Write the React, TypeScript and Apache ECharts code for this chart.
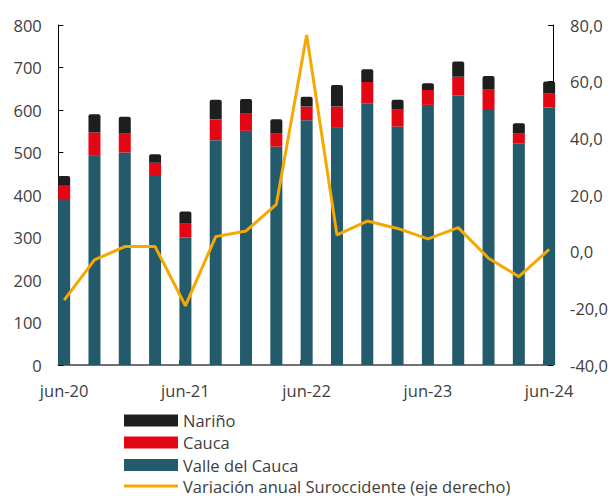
import React, { useEffect, useRef } from "react";
import * as echarts from "echarts";

const categories = [
  "jun-20", "sep-20", "dic-20", "mar-21", "jun-21", "sep-21", "dic-21", "mar-22",
  "jun-22", "sep-22", "dic-22", "mar-23", "jun-23", "sep-23", "dic-23", "mar-24", "jun-24",
];
const valleDelCauca = [388, 492, 500, 447, 300, 529, 551, 514, 576, 558, 616, 561, 612, 635, 600, 522, 606];
const cauca = [34, 55, 45, 29, 34, 49, 40, 31, 32, 50, 50, 41, 35, 43, 49, 23, 33];
const narino = [23, 43, 39, 20, 27, 46, 35, 33, 23, 51, 30, 22, 16, 36, 31, 24, 28];
const variacionAnual = [-17.1, -2.9, 1.8, 1.8, -19.1, 5.3, 7.3, 16.7, 76.5, 5.9, 10.8, 8.2, 4.5, 8.5, -2.3, -8.8, 0.8];
const leftTicks = { min: 0, max: 800, interval: 100 };
const rightTicks = { min: -40, max: 80, interval: 20 };
const legendNames = ["Nariño", "Cauca", "Valle del Cauca", "Variación anual Suroccidente (eje derecho)"];

const FONT = "Open Sans";
const FS = 16.5;
const TXT = "#404040";

export default function App() {
  const ref = useRef<HTMLDivElement>(null);
  useEffect(() => {
    document.body.style.margin = "0";
    const chart = echarts.init(ref.current!, null, { renderer: "svg" });
    const top = 25;
    const height = 340;
    const legendCenters = [420.5, 442.5, 465, 486];
    chart.setOption({
      animation: false,
      textStyle: { fontFamily: FONT },
      grid: [
        { left: 49, width: 515.3, top, height },
        { left: 58.3, right: 56.7, top, height },
      ],
      legend: legendNames.map((name, i) => {
        const isLine = i === 3;
        const ih = isLine ? 3 : 12;
        return {
          orient: "vertical",
          left: 124,
          top: legendCenters[i] - 9,
          height: 18,
          itemWidth: 54,
          itemHeight: ih,
          itemGap: 0,
          icon: "rect",
          padding: 0,
          textStyle: { fontFamily: FONT, fontSize: FS, color: TXT, lineHeight: 18, padding: [0, 0, 0, 0] },
          data: [{ name }],
        };
      }),
      xAxis: [
        {
          type: "category",
          gridIndex: 0,
          data: categories,
          boundaryGap: true,
          axisLine: { show: false },
          axisTick: { show: false },
          axisLabel: { interval: 3, margin: 17, fontSize: FS, color: TXT, fontFamily: FONT },
        },
        {
          type: "value",
          gridIndex: 1,
          min: 0,
          max: 16.33,
          interval: 4,
          axisLine: { show: true, lineStyle: { color: "#404040", width: 1.5 } },
          axisTick: { show: true, inside: true, length: 5, lineStyle: { color: "#404040" } },
          axisLabel: { show: false },
          splitLine: { show: false },
        },
      ],
      yAxis: [
        {
          type: "value",
          gridIndex: 1,
          position: "left",
          ...leftTicks,
          axisLine: { show: true, lineStyle: { color: "#000", width: 1 } },
          axisTick: { show: true, inside: true, length: 5, lineStyle: { color: "#000" } },
          axisLabel: { fontSize: FS, color: TXT, margin: 16.5, fontFamily: FONT },
          splitLine: { show: false },
        },
        {
          type: "value",
          gridIndex: 1,
          position: "right",
          ...rightTicks,
          axisLine: { show: true, lineStyle: { color: "#000", width: 1 } },
          axisTick: { show: true, inside: true, length: 5, lineStyle: { color: "#000" } },
          axisLabel: {
            fontSize: FS,
            color: TXT,
            margin: 17,
            fontFamily: FONT,
            formatter: (v: number) => v.toFixed(1).replace(".", ","),
          },
          splitLine: { show: false },
        },
        { type: "value", gridIndex: 0, ...leftTicks, show: false },
        { type: "value", gridIndex: 0, ...rightTicks, show: false },
      ],
      series: [
        {
          name: "Valle del Cauca",
          type: "bar",
          stack: "total",
          xAxisIndex: 0,
          yAxisIndex: 2,
          barWidth: 12,
          data: valleDelCauca,
          itemStyle: { color: "#235B6D" },
        },
        {
          name: "Cauca",
          type: "bar",
          stack: "total",
          xAxisIndex: 0,
          yAxisIndex: 2,
          barWidth: 12,
          data: cauca,
          itemStyle: { color: "#E30613" },
        },
        {
          name: "Nariño",
          type: "bar",
          stack: "total",
          xAxisIndex: 0,
          yAxisIndex: 2,
          barWidth: 12,
          data: narino,
          itemStyle: { color: "#1E1E1E", borderRadius: [2, 2, 0, 0] },
        },
        {
          name: "Variación anual Suroccidente (eje derecho)",
          type: "line",
          xAxisIndex: 0,
          yAxisIndex: 3,
          data: variacionAnual,
          symbol: "none",
          lineStyle: { color: "#F5A800", width: 3 },
          itemStyle: { color: "#F5A800" },
          z: 5,
        },
      ],
    });
    return () => chart.dispose();
  }, []);
  return <div ref={ref} style={{ width: 611, height: 496 }} />;
}
